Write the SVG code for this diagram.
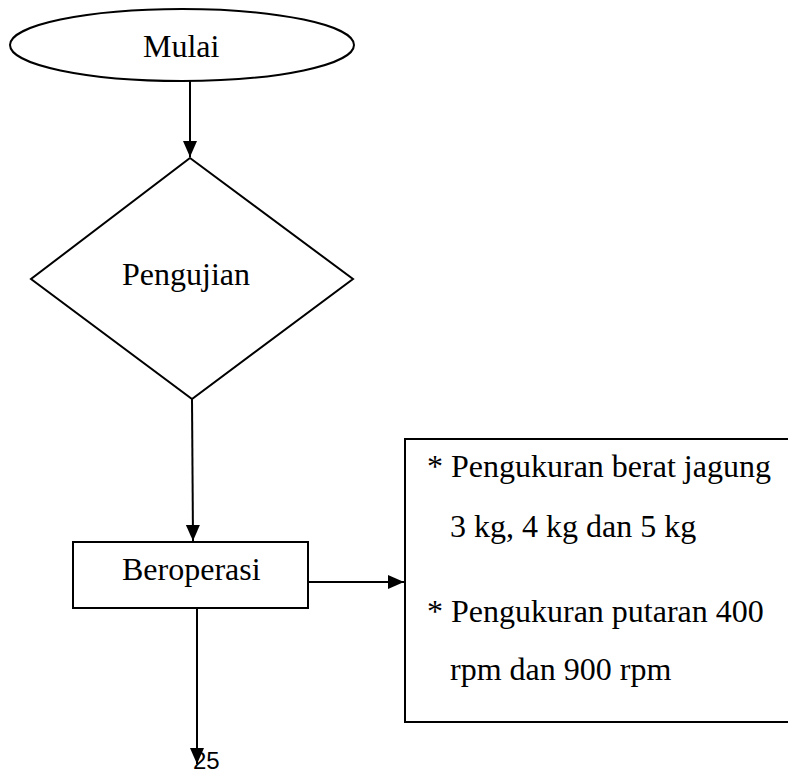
<svg xmlns="http://www.w3.org/2000/svg" width="788" height="776" viewBox="0 0 788 776">
<style>
.shape{fill:#fff;stroke:#000;stroke-width:2}
.t{font-family:"Liberation Serif","Times New Roman",serif;font-size:32px;fill:#000}
.line{fill:none;stroke:#000;stroke-width:2}
</style>
<defs>
<marker id="ah" markerUnits="userSpaceOnUse" markerWidth="16" markerHeight="16" viewBox="0 0 16 16" refX="16" refY="8" orient="auto">
<path d="M0,1 L16,8 L0,15 Z" fill="#000"/>
</marker>
</defs>
<rect width="788" height="776" fill="#fff"/>
<g id="connectors">
<line class="line" x1="190" y1="81" x2="190" y2="157" marker-end="url(#ah)"/>
<line class="line" x1="192" y1="399" x2="193" y2="541" marker-end="url(#ah)"/>
<line class="line" x1="308" y1="582" x2="404" y2="582" marker-end="url(#ah)"/>
<line class="line" x1="197" y1="608" x2="197" y2="764" marker-end="url(#ah)"/>
</g>
<g id="mulai">
<ellipse class="shape" cx="182" cy="45" rx="172" ry="36"/>
<text class="t" x="143" y="57">Mulai</text>
</g>
<g id="pengujian">
<polygon class="shape" points="190,158 353,279 192,399 31,279"/>
<text class="t" x="122" y="285">Pengujian</text>
</g>
<g id="beroperasi">
<rect class="shape" x="73" y="542" width="235" height="66"/>
<text class="t" x="122" y="580">Beroperasi</text>
</g>
<g id="keterangan">
<path class="line" d="M790,439 H405 V722 H790"/>
<text class="t" x="427" y="477">* Pengukuran berat jagung</text>
<text class="t" x="450" y="537">3 kg, 4 kg dan 5 kg</text>
<text class="t" x="427" y="622">* Pengukuran putaran 400</text>
<text class="t" x="450" y="680">rpm dan 900 rpm</text>
</g>
<text x="193" y="769" font-family="'Liberation Sans',Arial,sans-serif" font-size="24" fill="#000">25</text>
</svg>
